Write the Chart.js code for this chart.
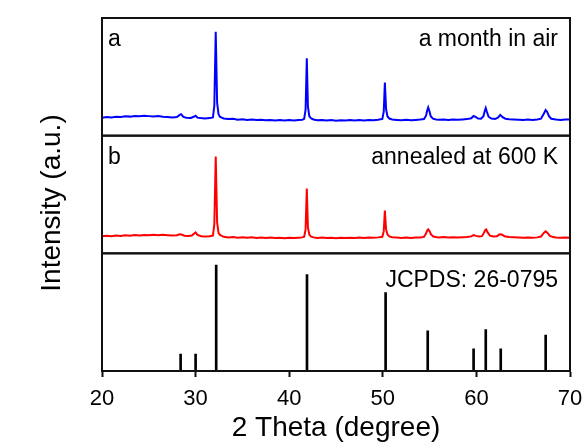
<!DOCTYPE html>
<html>
<head>
<meta charset="utf-8">
<script src="https://cdn.jsdelivr.net/npm/chart.js@4.4.1/dist/chart.umd.min.js"></script>
<style>
  body { margin: 0; background: #fff; }
</style>
</head>
<body>
<canvas id="xrdChart" width="585" height="442"></canvas>
<script>
// XRD scan after a month in air: [2 theta, counts]
const airScan = [
    [20.0,180],[20.5,186],[21.0,183],[21.5,190],[22.0,187],[22.5,195],[23.0,191],[23.5,198],[24.0,194],[24.5,200],
    [25.0,196],[25.5,193],[26.0,196],[26.5,189],[27.0,186],[27.5,181],[28.0,186],[28.3,208],[28.45,215],[28.7,188],
    [29.0,180],[29.5,177],[29.85,192],[30.0,200],[30.2,181],[30.5,176],[31.0,173],[31.5,176],[31.85,182],[32.0,300],
    [32.15,1043],[32.3,330],[32.45,215],[32.6,190],[32.8,180],[33.0,172],[33.5,166],[34.0,169],
    [34.5,160],[35.0,164],[35.5,158],[36.0,162],[36.5,156],[37.0,160],[37.5,155],[38.0,158],[38.5,153],[39.0,157],
    [39.5,152],[40.0,156],[40.5,153],[41.0,157],[41.4,160],[41.6,168],[41.75,260],[41.88,777],[42.0,290],
    [42.15,195],[42.35,172],[42.6,162],[43.0,155],[43.5,158],[44.0,152],[44.5,156],[45.0,150],[45.5,154],
    [46.0,151],[46.5,156],[47.0,152],[47.5,157],[48.0,153],[48.5,158],[49.0,155],[49.5,159],[49.95,168],[50.1,240],
    [50.22,533],[50.35,265],[50.5,192],[50.7,172],[51.0,162],[51.5,158],[52.0,155],[52.5,159],
    [53.0,154],[53.5,158],[54.0,161],[54.4,166],[54.62,200],[54.75,255],[54.85,283],[54.97,250],[55.12,195],[55.35,170],
    [55.7,163],[56.0,160],[56.5,163],[57.0,158],[57.5,162],[58.0,159],[58.5,163],[59.0,166],[59.45,175],[59.7,198],
    [59.9,188],[60.2,172],[60.5,170],[60.75,195],[60.9,250],[61.0,277],[61.12,240],[61.3,190],[61.6,172],[62.0,168],
    [62.3,180],[62.55,208],[62.8,185],[63.1,170],[63.5,165],[64.0,162],[64.5,160],[65.0,158],[65.5,161],[66.0,158],
    [66.5,162],[66.9,170],[67.2,220],[67.4,257],[67.55,240],[67.75,195],[68.0,170],[68.5,162],[69.0,158],[69.5,161],
    [70.0,162]
];

// XRD scan after annealing at 600 K
const annealedScan = [
    [20.0,170],[20.5,176],[21.0,172],[21.5,179],[22.0,175],[22.5,181],[23.0,177],[23.5,183],[24.0,179],[24.5,185],
    [25.0,181],[25.5,186],[26.0,182],[26.5,187],[27.0,182],[27.5,178],[28.0,181],[28.3,190],[28.5,188],[28.8,176],
    [29.2,174],[29.6,178],[29.85,198],[30.0,210],[30.2,185],[30.6,171],[31.0,168],[31.5,171],[31.85,178],[32.0,290],
    [32.15,970],[32.3,310],[32.45,205],[32.6,185],[32.8,175],[33.0,166],[33.5,160],[34.0,163],
    [34.5,157],[35.0,161],[35.5,156],[36.0,160],[36.5,155],[37.0,159],[37.5,154],[38.0,158],[38.5,153],[39.0,157],
    [39.5,152],[40.0,156],[40.5,153],[41.0,157],[41.4,160],[41.6,166],[41.75,240],[41.88,650],[42.0,260],
    [42.15,188],[42.35,168],[42.6,160],[43.0,154],[43.5,158],[44.0,153],[44.5,157],[45.0,152],[45.5,156],
    [46.0,153],[46.5,157],[47.0,154],[47.5,158],[48.0,155],[48.5,158],[49.0,156],[49.5,160],[49.95,166],[50.1,220],
    [50.22,430],[50.35,240],[50.5,188],[50.7,170],[51.0,162],[51.5,158],[52.0,155],[52.5,159],
    [53.0,155],[53.5,158],[54.0,160],[54.4,165],[54.6,195],[54.75,228],[54.85,240],[55.0,222],[55.15,190],[55.4,168],
    [55.8,162],[56.0,160],[56.5,163],[57.0,158],[57.5,162],[58.0,159],[58.5,162],[59.0,164],[59.45,170],[59.7,183],
    [59.95,175],[60.3,168],[60.6,172],[60.8,205],[60.95,235],[61.05,240],[61.2,210],[61.45,178],[61.8,168],[62.2,172],
    [62.5,192],[62.7,190],[63.0,172],[63.5,164],[64.0,161],[64.5,159],[65.0,157],[65.5,160],[66.0,157],[66.5,160],
    [66.9,168],[67.2,205],[67.4,220],[67.6,205],[67.85,175],[68.2,163],[68.5,160],[69.0,157],[69.5,159],[70.0,157]
];

// reference pattern JCPDS 26-0795
const refTheta = [28.4, 30.0, 32.2, 41.9, 50.3, 54.8, 59.7, 61.0, 62.6, 67.4];
const refIntensity = [16, 16, 100, 91, 74, 38, 21, 39, 21, 34];

const panelTags = ['a', 'b', ''];
const panelNotes = ['a month in air', 'annealed at 600 K', 'JCPDS: 26-0795'];
const xTicks = [20, 30, 40, 50, 60, 70];

const FONT = 'Liberation Sans, Arial, sans-serif';

// frames, panel captions and the shared y title
const panelPlugin = {
    id: 'panels',
    afterDraw(chart) {
        const ctx = chart.ctx;
        const area = chart.chartArea;
        const ids = ['ya', 'yb', 'yc'];
        const tagDrop = [28, 28, 34];
        ctx.save();
        ctx.strokeStyle = '#111';
        ctx.lineWidth = 2;
        ctx.fillStyle = '#000';
        ctx.font = '23px ' + FONT;
        ids.forEach((id, i) => {
            const s = chart.scales[id];
            ctx.strokeRect(area.left, s.top, area.right - area.left, s.bottom - s.top);
            ctx.textBaseline = 'alphabetic';
            ctx.textAlign = 'left';
            ctx.fillText(panelTags[i], area.left + 6, s.top + tagDrop[i]);
            ctx.textAlign = 'right';
            ctx.fillText(panelNotes[i], area.right - 12, s.top + tagDrop[i]);
        });
        ctx.translate(52, 203);
        ctx.rotate(-Math.PI / 2);
        ctx.textAlign = 'center';
        ctx.textBaseline = 'middle';
        ctx.font = '28px ' + FONT;
        ctx.fillText('Intensity (a.u.)', 0, 0);
        ctx.restore();
    }
};

function panelAxis(max) {
    return {
        type: 'linear',
        position: 'left',
        stack: 'xrd',
        stackWeight: 1,
        offset: false,
        min: 0,
        max: max,
        display: true,
        ticks: { display: false },
        grid: { display: false, drawTicks: false },
        border: { display: false },
        afterFit: s => { s.width = 0; }
    };
}

new Chart(document.getElementById('xrdChart'), {
    type: 'scatter',
    data: {
        datasets: [
            {
                label: 'a month in air',
                data: airScan.map(p => ({ x: p[0], y: p[1] })),
                yAxisID: 'ya',
                showLine: true,
                borderColor: '#0000ff',
                borderWidth: 2,
                pointRadius: 0,
                tension: 0
            },
            {
                label: 'annealed at 600 K',
                data: annealedScan.map(p => ({ x: p[0], y: p[1] })),
                yAxisID: 'yb',
                showLine: true,
                borderColor: '#ff0000',
                borderWidth: 2,
                pointRadius: 0,
                tension: 0
            },
            {
                type: 'bar',
                label: 'JCPDS: 26-0795',
                data: refTheta.map((t, i) => ({ x: t, y: refIntensity[i] })),
                yAxisID: 'yc',
                backgroundColor: '#000',
                borderWidth: 0,
                barThickness: 2
            }
        ]
    },
    options: {
        responsive: false,
        animation: false,
        devicePixelRatio: 1,
        layout: { padding: { left: 102, right: 15, top: 18, bottom: 0 } },
        plugins: {
            legend: { display: false },
            tooltip: { enabled: false }
        },
        scales: {
            x: {
                type: 'linear',
                min: 20,
                max: 70,
                offset: false,
                afterBuildTicks: s => { s.ticks = xTicks.map(v => ({ value: v })); },
                afterFit: s => {
                    s.height = 71;
                    s.paddingLeft = 0;
                    s.paddingRight = 0;
                },
                ticks: {
                    color: '#000',
                    padding: 11,
                    font: { family: FONT, size: 22, lineHeight: 1 }
                },
                grid: {
                    offset: false,
                    drawOnChartArea: false,
                    drawTicks: true,
                    tickLength: 6,
                    tickWidth: 2,
                    tickColor: '#111'
                },
                border: { display: true, color: '#111', width: 2 },
                title: {
                    display: true,
                    text: '2 Theta (degree)',
                    color: '#000',
                    padding: { top: 0, bottom: 0 },
                    font: { family: FONT, size: 28, lineHeight: 1 }
                }
            },
            // stacked panels are placed bottom-up in key order
            yc: panelAxis(111),
            yb: panelAxis(1180),
            ya: panelAxis(1180)
        }
    },
    plugins: [panelPlugin]
});
</script>
</body>
</html>
